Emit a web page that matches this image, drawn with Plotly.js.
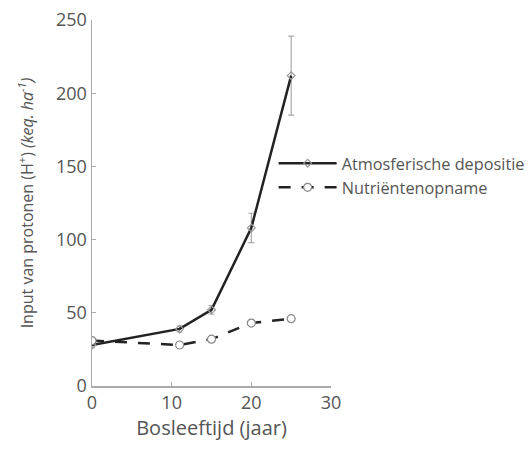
<!DOCTYPE html>
<html><head><meta charset="utf-8">
<script src="https://cdn.plot.ly/plotly-3.0.1.min.js"></script>
<style>body{margin:0;background:#fff}#c{width:532px;height:450px}</style>
</head><body><div id="c"></div>
<script>
const years = [0, 11, 15, 20, 25];
const atmosferisch = [28, 39, 52, 108, 212];
const atmosferischErr = [2, 2, 3, 10, 27];
const nutrienten = [31, 28, 32, 43, 46];
const xTicks = [0, 10, 20, 30];
const yTicks = [0, 50, 100, 150, 200, 250];

const traces = [
  {x: years, y: atmosferisch, name: 'Atmosferische depositie', type: 'scatter', mode: 'lines+markers',
   line: {color: '#222', width: 2.5},
   marker: {symbol: 'diamond-open', size: 6, color: '#999', line: {width: 1.2, color: '#999'}},
   error_y: {type: 'data', array: atmosferischErr, visible: true, color: '#aaa', thickness: 1.2, width: 3}},
  {x: years, y: nutrienten, name: 'Nutriëntenopname', type: 'scatter', mode: 'lines+markers',
   line: {color: '#222', width: 2.5, dash: '12px,11px'},
   marker: {symbol: 'circle', size: 8, color: '#fff', line: {width: 1.2, color: '#888'}}}
];

const layout = {
  width: 532, height: 450,
  margin: {l: 92, r: 201, t: 20, b: 64, autoexpand: false},
  paper_bgcolor: '#fff', plot_bgcolor: '#fff',
  font: {family: '"Open Sans", sans-serif', color: '#555', size: 13},
  showlegend: true,
  legend: {x: 0.76, y: 0.575, xanchor: 'left', yanchor: 'middle', bgcolor: 'rgba(0,0,0,0)',
           font: {size: 16.3, color: '#555'}, itemwidth: 58, tracegroupgap: 0},
  xaxis: {range: [0, 30], tickvals: xTicks, showgrid: false, zeroline: false,
          showline: true, linecolor: '#aaa', linewidth: 1.5,
          ticks: 'inside', ticklen: 4, tickcolor: '#aaa',
          tickfont: {size: 18, color: '#555'},
          title: {text: 'Bosleeftijd (jaar)', font: {size: 20, color: '#555'}, standoff: 8}},
  yaxis: {range: [0, 250], tickvals: yTicks, showgrid: false, zeroline: false,
          showline: true, linecolor: '#aaa', linewidth: 1.5,
          ticks: 'inside', ticklen: 4, tickcolor: '#aaa',
          tickfont: {size: 18, color: '#555'},
          title: {text: 'Input van protonen (H<sup>+</sup>) <i>(keq. ha<sup>-1</sup>)</i>', font: {size: 16, color: '#555'}, standoff: 18}}
};
Plotly.newPlot('c', traces, layout, {displayModeBar: false, staticPlot: true});
</script></body></html>
